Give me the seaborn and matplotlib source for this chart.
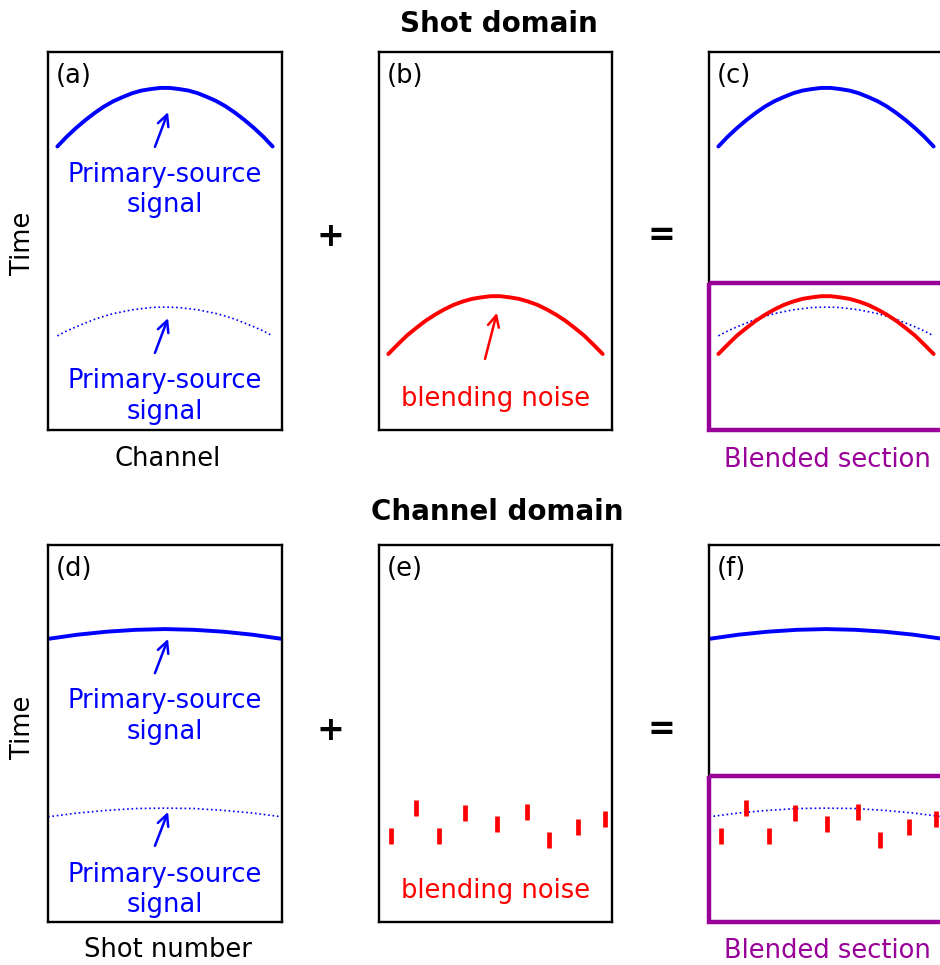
import matplotlib.pyplot as plt
import seaborn as sns
from matplotlib.patches import Rectangle

sns.set_style('white')
plt.rcParams['font.family'] = ['DejaVu Sans']
plt.rcParams['text.color'] = 'black'

# Curves (x = fraction of panel width, t = fraction of panel height, down)
x_shot = [0.04, 0.08, 0.12, 0.16, 0.20, 0.24, 0.28, 0.32, 0.36, 0.40, 0.44, 0.48,
          0.52, 0.56, 0.60, 0.64, 0.68, 0.72, 0.76, 0.80, 0.84, 0.88, 0.92, 0.96]
t_primary_shot = [0.250, 0.224, 0.201, 0.180, 0.161, 0.144, 0.130, 0.119, 0.109, 0.102, 0.098, 0.095,
                  0.095, 0.098, 0.102, 0.109, 0.119, 0.130, 0.144, 0.161, 0.180, 0.201, 0.224, 0.250]
t_weak_shot = [0.751, 0.738, 0.727, 0.717, 0.707, 0.699, 0.692, 0.687, 0.682, 0.679, 0.676, 0.675,
               0.675, 0.676, 0.679, 0.682, 0.687, 0.692, 0.699, 0.707, 0.717, 0.727, 0.738, 0.751]
t_noise_shot = [0.799, 0.774, 0.750, 0.730, 0.711, 0.695, 0.681, 0.669, 0.660, 0.653, 0.649, 0.646,
                0.646, 0.649, 0.653, 0.660, 0.669, 0.681, 0.695, 0.711, 0.730, 0.750, 0.774, 0.799]

x_chan = [0.0, 0.125, 0.25, 0.375, 0.5, 0.625, 0.75, 0.875, 1.0]
t_primary_chan = [0.249, 0.238, 0.230, 0.225, 0.223, 0.225, 0.230, 0.238, 0.249]
t_weak_chan = [0.721, 0.711, 0.704, 0.699, 0.698, 0.699, 0.704, 0.711, 0.721]

# blending noise spikes in the channel domain
noise_x = [0.052, 0.157, 0.257, 0.369, 0.505, 0.636, 0.730, 0.854, 0.968]
noise_t = [0.771, 0.698, 0.771, 0.711, 0.739, 0.708, 0.782, 0.748, 0.727]

BLUE = '#0000ff'
RED = '#ff0000'
PURPLE = '#990099'
FS = 18.5

W, H = 940, 965
fig = plt.figure(figsize=(W / 100, H / 100), dpi=100)


def panel(left, top, width, height, label):
    ax = fig.add_axes([left / W, 1 - (top + height) / H, width / W, height / H])
    ax.set_xticks([])
    ax.set_yticks([])
    for s in ax.spines.values():
        s.set_visible(True)
        s.set_color('black')
        s.set_linewidth(1.7)
    ax.text(0.035, 0.03, label, fontsize=FS, va='top', ha='left')
    return ax


def curve(ax, x, t, color, dotted=False):
    if dotted:
        sns.lineplot(x=x, y=t, ax=ax, color=color, linestyle=':', lw=1.2,
                     sort=False, estimator=None)
    else:
        sns.lineplot(x=x, y=t, ax=ax, color=color, lw=2.8, sort=False, estimator=None)


def arrow(ax, tail, tip, color):
    ax.annotate('', xy=tip, xytext=tail,
                arrowprops=dict(arrowstyle='->', color=color, lw=1.8, mutation_scale=20,
                                shrinkA=0, shrinkB=0))


def finish(ax):
    ax.set_xlim(0, 1)
    ax.set_ylim(1, 0)
    ax.set_xlabel('')
    ax.set_ylabel('')


# ---- shot domain ----
ax_a = panel(48, 52, 234, 378, '(a)')
curve(ax_a, x_shot, t_primary_shot, BLUE)
curve(ax_a, x_shot, t_weak_shot, BLUE, dotted=True)
arrow(ax_a, (0.457, 0.251), (0.513, 0.159), BLUE)
arrow(ax_a, (0.457, 0.796), (0.513, 0.704), BLUE)
for y, s in [(0.344, 'Primary-source'), (0.423, 'signal'), (0.889, 'Primary-source'), (0.971, 'signal')]:
    ax_a.text(0.5, y, s, color=BLUE, fontsize=FS, ha='center', va='baseline')
finish(ax_a)

ax_b = panel(379, 52, 233, 378, '(b)')
curve(ax_b, x_shot, t_noise_shot, RED)
arrow(ax_b, (0.455, 0.812), (0.506, 0.690), RED)
ax_b.text(0.502, 0.937, 'blending noise', color=RED, fontsize=FS, ha='center', va='baseline')
finish(ax_b)

ax_c = panel(709, 52, 234, 378, '(c)')
curve(ax_c, x_shot, t_primary_shot, BLUE)
curve(ax_c, x_shot, t_weak_shot, BLUE, dotted=True)
curve(ax_c, x_shot, t_noise_shot, RED)
ax_c.add_patch(Rectangle((0, 0.611), 1, 0.389, fill=False, ec=PURPLE, lw=3.2,
                         clip_on=False, zorder=5))
finish(ax_c)

# ---- channel domain ----
ax_d = panel(48, 545, 234, 377, '(d)')
curve(ax_d, x_chan, t_primary_chan, BLUE)
curve(ax_d, x_chan, t_weak_chan, BLUE, dotted=True)
arrow(ax_d, (0.457, 0.340), (0.513, 0.249), BLUE)
arrow(ax_d, (0.457, 0.798), (0.513, 0.708), BLUE)
for y, s in [(0.432, 'Primary-source'), (0.515, 'signal'), (0.894, 'Primary-source'), (0.973, 'signal')]:
    ax_d.text(0.5, y, s, color=BLUE, fontsize=FS, ha='center', va='baseline')
finish(ax_d)

ax_e = panel(379, 545, 233, 377, '(e)')
ax_e.vlines(noise_x, [t - 0.021 for t in noise_t], [t + 0.021 for t in noise_t],
            color=RED, lw=3.4)
ax_e.text(0.502, 0.936, 'blending noise', color=RED, fontsize=FS, ha='center', va='baseline')
finish(ax_e)

ax_f = panel(709, 545, 234, 377, '(f)')
curve(ax_f, x_chan, t_primary_chan, BLUE)
curve(ax_f, x_chan, t_weak_chan, BLUE, dotted=True)
ax_f.vlines(noise_x, [t - 0.021 for t in noise_t], [t + 0.021 for t in noise_t],
            color=RED, lw=3.4)
ax_f.add_patch(Rectangle((0, 0.613), 1, 0.387, fill=False, ec=PURPLE, lw=3.2,
                         clip_on=False, zorder=5))
finish(ax_f)

# ---- figure-level text ----
fig.text(499 / W, 1 - 32 / H, 'Shot domain', fontsize=20, fontweight='bold', ha='center', va='baseline')
fig.text(497 / W, 1 - 520 / H, 'Channel domain', fontsize=20, fontweight='bold', ha='center', va='baseline')
for yc in (243, 727):
    fig.text(23 / W, 1 - yc / H, 'Time', fontsize=FS, rotation=90, ha='center', va='center')
for yc in (236, 730):
    fig.text(330 / W, 1 - yc / H, '+', fontsize=24, fontweight='bold', ha='center', va='center')
    fig.text(661 / W, 1 - yc / H, '=', fontsize=24, fontweight='bold', ha='center', va='center')
fig.text(168 / W, 1 - 466 / H, 'Channel', fontsize=FS, ha='center', va='baseline')
fig.text(827 / W, 1 - 467 / H, 'Blended section', fontsize=FS, color=PURPLE, ha='center', va='baseline')
fig.text(168 / W, 1 - 957 / H, 'Shot number', fontsize=FS, ha='center', va='baseline')
fig.text(827 / W, 1 - 958 / H, 'Blended section', fontsize=FS, color=PURPLE, ha='center', va='baseline')

fig.savefig('out.png', dpi=100)
